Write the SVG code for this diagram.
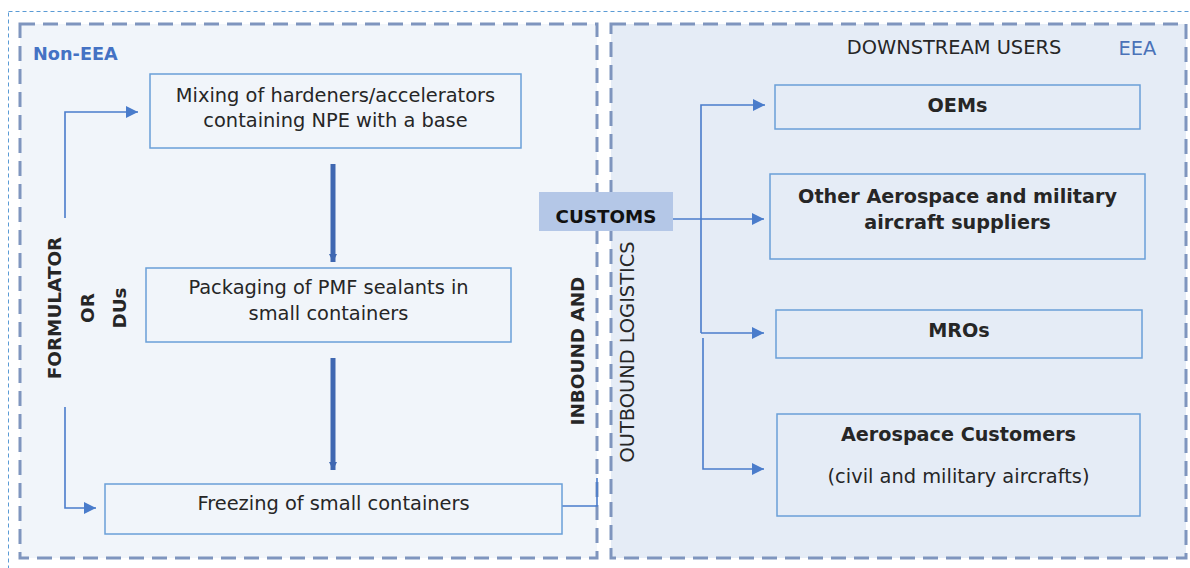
<svg xmlns="http://www.w3.org/2000/svg" width="1190" height="568" viewBox="0 0 1190 568">
<style>
.t{font-family:"DejaVu Sans",Verdana,sans-serif;fill:#262626;font-size:19.4px}
.b{font-weight:bold;font-size:19.2px}
.v{font-size:18.4px}
.box{fill:none;stroke:#6A9FD8;stroke-width:1.5}
.con{fill:none;stroke:#4A7CCB;stroke-width:1.6}
.thick{fill:none;stroke:#3F67B1;stroke-width:5}
.zone{stroke:#7F95BE;stroke-width:3;stroke-dasharray:15 8}
</style>
<defs>
<marker id="ah" viewBox="0 0 12 12" refX="12" refY="6" markerWidth="12" markerHeight="12" markerUnits="userSpaceOnUse" orient="auto"><path d="M0,0 L12,6 L0,12 z" fill="#4A7CCB"/></marker>
<marker id="ahk" viewBox="0 0 8 8" refX="8" refY="4" markerWidth="8" markerHeight="8" markerUnits="userSpaceOnUse" orient="auto"><path d="M0,0 L8,4 L0,8 z" fill="#3F67B1"/></marker>
</defs>
<rect width="1190" height="568" fill="#ffffff"/>
<rect x="8.5" y="11.5" width="1200" height="570" fill="none" stroke="#5B9BD5" stroke-width="1" stroke-dasharray="4 3"/>
<g id="zone-non-eea">
<rect class="zone" x="20" y="24" width="577" height="534" fill="#F1F5FA"/>
<text class="t b" x="33" y="60" style="fill:#4472C4;font-size:17.7px">Non-EEA</text>
<text class="t b v" transform="translate(61,308) rotate(-90)" text-anchor="middle">FORMULATOR</text>
<text class="t b v" transform="translate(94,308) rotate(-90)" text-anchor="middle">OR</text>
<text class="t b v" transform="translate(126,308) rotate(-90)" text-anchor="middle">DUs</text>
<text class="t b v" transform="translate(584,351) rotate(-90)" text-anchor="middle">INBOUND AND</text>
</g>
<g id="zone-eea">
<rect class="zone" x="611" y="24" width="575" height="534" fill="#E5ECF6"/>
<text class="t" x="954" y="54" text-anchor="middle">DOWNSTREAM USERS</text>
<text class="t" x="1137.5" y="55" text-anchor="middle" style="fill:#4A72B8">EEA</text>
<text class="t" transform="translate(634,352) rotate(-90)" text-anchor="middle">OUTBOUND LOGISTICS</text>
</g>
<g id="connectors">
<path class="con" d="M65,218 V112 H138" marker-end="url(#ah)"/>
<path class="con" d="M65,407 V508 H96" marker-end="url(#ah)"/>
<path class="thick" d="M333,164 V262" marker-end="url(#ahk)"/>
<path class="thick" d="M333,358 V470" marker-end="url(#ahk)"/>
<path class="con" d="M562,506 H597 V478"/>
<path class="con" d="M673,219 H764" marker-end="url(#ah)"/>
<path class="con" d="M701,333 V105 H765" marker-end="url(#ah)"/>
<path class="con" d="M701,333 H764" marker-end="url(#ah)"/>
<path class="con" d="M703,338 V469 H764" marker-end="url(#ah)"/>
</g>
<g id="node-mixing">
<rect class="box" x="150" y="74" width="371" height="74"/>
<text class="t" x="335.5" y="102" text-anchor="middle">Mixing of hardeners/accelerators</text>
<text class="t" x="335.5" y="127" text-anchor="middle">containing NPE with a base</text>
</g>
<g id="node-packaging">
<rect class="box" x="146" y="268" width="365" height="74"/>
<text class="t" x="328.5" y="294" text-anchor="middle">Packaging of PMF sealants in</text>
<text class="t" x="328.5" y="320" text-anchor="middle">small containers</text>
</g>
<g id="node-freezing">
<rect class="box" x="105" y="484" width="457" height="50"/>
<text class="t" x="333.5" y="510" text-anchor="middle">Freezing of small containers</text>
</g>
<g id="node-customs">
<rect x="539" y="192" width="134" height="39" fill="#B4C7E7"/>
<text class="t b" x="606" y="223" text-anchor="middle" style="fill:#111;font-size:18.3px">CUSTOMS</text>
</g>
<g id="node-oems">
<rect class="box" x="775" y="85" width="365" height="44"/>
<text class="t b" x="957.5" y="112" text-anchor="middle">OEMs</text>
</g>
<g id="node-other">
<rect class="box" x="770" y="174" width="375" height="85"/>
<text class="t b" x="957.5" y="203" text-anchor="middle">Other Aerospace and military</text>
<text class="t b" x="957.5" y="229" text-anchor="middle">aircraft suppliers</text>
</g>
<g id="node-mros">
<rect class="box" x="776" y="310" width="366" height="48"/>
<text class="t b" x="959" y="337" text-anchor="middle">MROs</text>
</g>
<g id="node-aerospace">
<rect class="box" x="777" y="414" width="363" height="102"/>
<text class="t b" x="958.5" y="441" text-anchor="middle">Aerospace Customers</text>
<text class="t" x="958.5" y="483" text-anchor="middle">(civil and military aircrafts)</text>
</g>
</svg>
